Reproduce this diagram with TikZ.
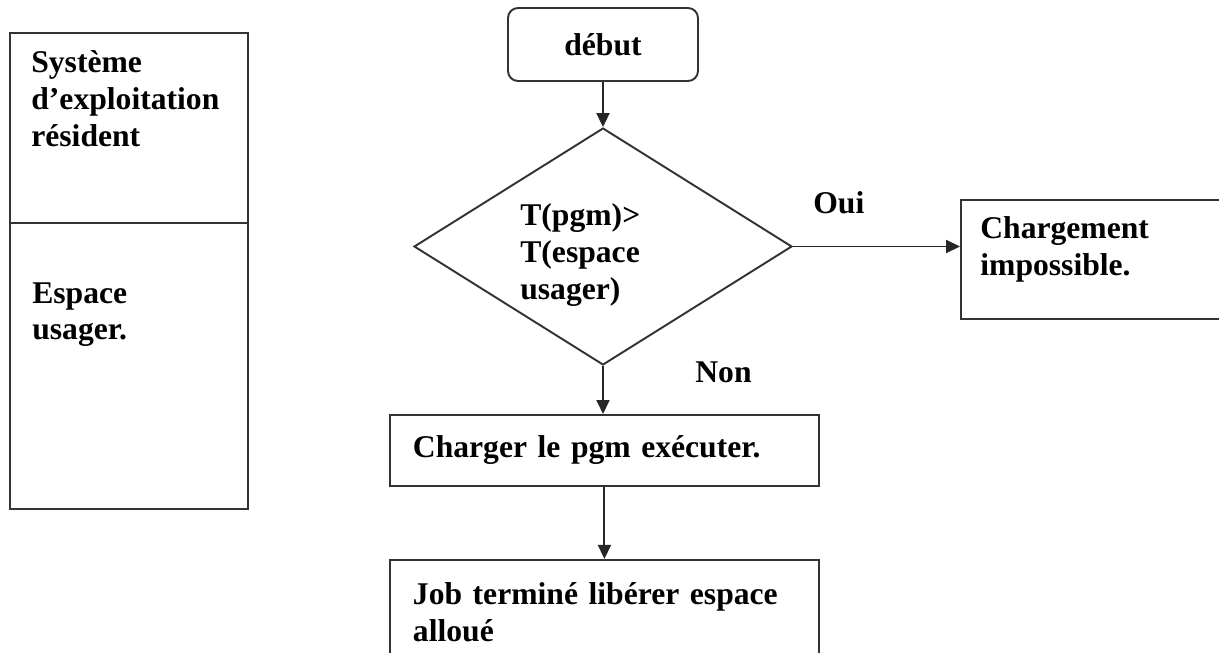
\documentclass[tikz,border=0pt]{standalone}
\usepackage{fontspec}
\setmainfont{Liberation Serif}
\usepackage{tikz}
\usetikzlibrary{arrows.meta, positioning, shapes.geometric}

\begin{document}
\begin{tikzpicture}[
    x=0.02cm, y=-0.02cm,
    box/.style={draw=black!80, line width=1.1pt, rectangle, inner sep=0pt},
    txt/.style={font=\bfseries\fontsize{18}{21}\selectfont, align=left, inner sep=0pt},
    arrow/.style={-{Triangle[length=0.28cm, width=0.26cm]}, line width=1.1pt, draw=black!85}
]
    \useasboundingbox (0,0) rectangle (1219,652);

    % Memory layout on the left
    \node[box, anchor=north west, minimum width=4.76cm, minimum height=3.8cm] (sysres) at (9,32) {};
    \node[box, below=-1.1pt of sysres, minimum width=4.76cm, minimum height=5.72cm] (usager) {};
    \node[txt, anchor=north west] (sysres_txt) at ([shift={(22,18)}]sysres.north west) {Système\\d'exploitation\\résident};
    \node[txt, anchor=north west] (usager_txt) at ([shift={(23,60)}]usager.north west) {Espace\\usager.};

    % Flowchart
    \node[box, rounded corners=0.2cm, minimum width=3.8cm, minimum height=1.46cm, txt] (debut) at (603,44.5) {début};
    \node[box, diamond, minimum width=7.56cm, minimum height=4.74cm] (decision) at (603,246.5) {};
    \node[txt, anchor=north west] (cond) at (520,203) {T(pgm)>\\T(espace\\usager)};

    \node[box, anchor=north west, minimum width=6cm, minimum height=2.38cm] (impossible) at (960,199) {};
    \node[txt, anchor=north west] (impossible_txt) at ([shift={(20,17)}]impossible.north west) {Chargement\\impossible.};

    \node[box, txt, anchor=north west, minimum width=8.58cm, minimum height=1.42cm,
          text width=7.66cm, inner xsep=0.46cm] (charger) at (389,414) {Charger le pgm exécuter.};
    \node[box, txt, below=1.44cm of charger, text width=7.66cm, inner xsep=0.46cm, inner ysep=0.32cm,
          minimum height=2.1cm] (job) {Job terminé libérer espace\\alloué};

    % Branch labels
    \node[txt, anchor=base west] (oui) at (813,213) {Oui};
    \node[txt, anchor=base west] (non) at (695,382) {Non};

    % Connectors
    \draw[arrow] (debut.south) -- (debut.south |- decision.north);
    \draw[arrow] (decision.east) -- (decision.east -| impossible.west);
    \draw[arrow] (decision.south) -- (decision.south |- charger.north);
    \draw[arrow] (charger.south) -- (charger.south |- job.north);

\end{tikzpicture}
\end{document}
